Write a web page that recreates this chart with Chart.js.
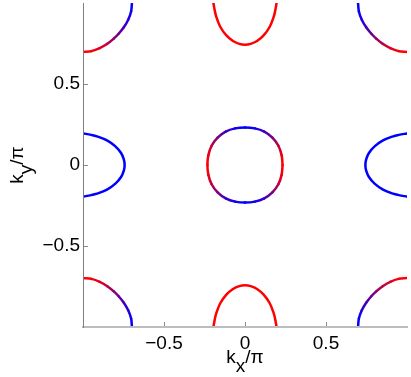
<!DOCTYPE html>
<html>
<head>
<meta charset="utf-8">
<script src="https://cdn.jsdelivr.net/npm/chart.js@4/dist/chart.umd.min.js"></script>
<style>
html,body{margin:0;padding:0;background:#fff;}
#c{display:block;}
</style>
</head>
<body>
<canvas id="c" width="411" height="377"></canvas>
<script>
// ---- tick values / labels ----
const tickValues = [-0.5, 0, 0.5];
const tickLabels = ['\u22120.5', '0', '0.5'];

// ---- Fermi surface pockets (kx/pi, ky/pi) and red weight (1 = red, 0 = blue) ----
// central pocket around (0,0)
const gammaKx = [0.232,0.226,0.206,0.169,0.119,0.061,0.000,-0.061,-0.119,-0.169,-0.206,-0.226,-0.232,-0.226,-0.206,-0.169,-0.119,-0.061,0.000,0.061,0.119,0.169,0.206,0.226,0.232];
const gammaKy = [0.000,0.061,0.119,0.169,0.206,0.226,0.232,0.226,0.206,0.169,0.119,0.061,0.000,-0.061,-0.119,-0.169,-0.206,-0.226,-0.232,-0.226,-0.206,-0.169,-0.119,-0.061,0.000];
const gammaRed = [1,0.93,0.75,0.50,0.25,0.07,0,0.07,0.25,0.50,0.75,0.93,1,0.93,0.75,0.50,0.25,0.07,0,0.07,0.25,0.50,0.75,0.93,1];

// pocket around (0,1)
const topKx = [-0.195,-0.186,-0.177,-0.152,-0.115,-0.074,-0.035,0.000,0.035,0.074,0.115,0.152,0.177,0.186,0.195];
const topKy = [1.000,0.950,0.914,0.852,0.800,0.765,0.748,0.743,0.748,0.765,0.800,0.852,0.914,0.950,1.000];
const topRed = [1,1,1,1,1,1,1,1,1,1,1,1,1,1,1];

// pocket around (0,-1)
const bottomKx = [-0.195,-0.186,-0.177,-0.152,-0.115,-0.074,-0.035,0.000,0.035,0.074,0.115,0.152,0.177,0.186,0.195];
const bottomKy = [-1.000,-0.950,-0.914,-0.852,-0.800,-0.765,-0.748,-0.743,-0.748,-0.765,-0.800,-0.852,-0.914,-0.950,-1.000];
const bottomRed = [1,1,1,1,1,1,1,1,1,1,1,1,1,1,1];

// pocket around (-1,0)
const leftKx = [-1.000,-0.950,-0.914,-0.852,-0.800,-0.765,-0.748,-0.743,-0.748,-0.765,-0.800,-0.852,-0.914,-0.950,-1.000];
const leftKy = [0.195,0.186,0.177,0.152,0.115,0.074,0.035,0.000,-0.035,-0.074,-0.115,-0.152,-0.177,-0.186,-0.195];
const leftRed = [0,0,0,0,0,0,0,0,0,0,0,0,0,0,0];

// pocket around (1,0)
const rightKx = [1.000,0.950,0.914,0.852,0.800,0.765,0.748,0.743,0.748,0.765,0.800,0.852,0.914,0.950,1.000];
const rightKy = [0.195,0.186,0.177,0.152,0.115,0.074,0.035,0.000,-0.035,-0.074,-0.115,-0.152,-0.177,-0.186,-0.195];
const rightRed = [0,0,0,0,0,0,0,0,0,0,0,0,0,0,0];

// corner pockets
const tlKx = [-1.000,-0.948,-0.897,-0.850,-0.810,-0.780,-0.748,-0.721,-0.703,-0.698];
const tlKy = [0.698,0.703,0.721,0.748,0.780,0.810,0.850,0.897,0.948,1.000];
const tlRed = [1,0.97,0.88,0.74,0.57,0.43,0.26,0.12,0.03,0];

const trKx = [1.000,0.948,0.897,0.850,0.810,0.780,0.748,0.721,0.703,0.698];
const trKy = [0.698,0.703,0.721,0.748,0.780,0.810,0.850,0.897,0.948,1.000];
const trRed = [1,0.97,0.88,0.74,0.57,0.43,0.26,0.12,0.03,0];

const blKx = [-1.000,-0.948,-0.897,-0.850,-0.810,-0.780,-0.748,-0.721,-0.703,-0.698];
const blKy = [-0.698,-0.703,-0.721,-0.748,-0.780,-0.810,-0.850,-0.897,-0.948,-1.000];
const blRed = [1,0.97,0.88,0.74,0.57,0.43,0.26,0.12,0.03,0];

const brKx = [1.000,0.948,0.897,0.850,0.810,0.780,0.748,0.721,0.703,0.698];
const brKy = [-0.698,-0.703,-0.721,-0.748,-0.780,-0.810,-0.850,-0.897,-0.948,-1.000];
const brRed = [1,0.97,0.88,0.74,0.57,0.43,0.26,0.12,0.03,0];

const pockets = [
  [gammaKx, gammaKy, gammaRed],
  [topKx, topKy, topRed],
  [bottomKx, bottomKy, bottomRed],
  [leftKx, leftKy, leftRed],
  [rightKx, rightKy, rightRed],
  [tlKx, tlKy, tlRed],
  [trKx, trKy, trRed],
  [blKx, blKy, blRed],
  [brKx, brKy, brRed]
];

// ---- styling ----
const FONT = "'Liberation Sans', Arial, Helvetica, sans-serif";
function mix(w) {
  return 'rgb(' + Math.round(255 * w) + ',0,' + Math.round(255 * (1 - w)) + ')';
}
function segColor(weights) {
  return function (ctx) {
    const w0 = weights[ctx.p0DataIndex], w1 = weights[ctx.p1DataIndex];
    if (w0 === w1) return mix(w0);
    const g = ctx.chart.ctx.createLinearGradient(ctx.p0.x, ctx.p0.y, ctx.p1.x, ctx.p1.y);
    g.addColorStop(0, mix(w0));
    g.addColorStop(1, mix(w1));
    return g;
  };
}

const datasets = pockets.map(function (p) {
  const kx = p[0], ky = p[1], red = p[2];
  return {
    data: kx.map(function (x, i) { return { x: x, y: ky[i] }; }),
    showLine: true,
    pointRadius: 0,
    borderWidth: 2.5,
    tension: 0.34,
    borderCapStyle: 'round',
    borderJoinStyle: 'round',
    borderColor: mix(red[0]),
    segment: { borderColor: segColor(red) },
    clip: { left: -1, top: 0, right: 0, bottom: -1 }
  };
});

function fmt(v) {
  const i = tickValues.indexOf(v);
  return i >= 0 ? tickLabels[i] : '';
}

const decor = {
  id: 'decor',
  afterDraw(chart) {
    const c = chart.ctx, a = chart.chartArea;
    const xs = chart.scales.x, ys = chart.scales.y;
    c.save();
    // inward tick marks
    c.strokeStyle = '#8c8c8c';
    c.lineWidth = 1;
    c.beginPath();
    tickValues.forEach(function (v) {
      const px = Math.round(xs.getPixelForValue(v)) + 0.5;
      c.moveTo(px, a.bottom - 1);
      c.lineTo(px, a.bottom - 5);
      const py = Math.round(ys.getPixelForValue(v)) + 0.5;
      c.moveTo(a.left + 1, py);
      c.lineTo(a.left + 5, py);
    });
    c.stroke();

    // axis titles  k_x/pi , k_y/pi
    c.fillStyle = '#000';
    c.font = '19px ' + FONT;
    c.textBaseline = 'alphabetic';
    c.textAlign = 'left';
    const drawTitle = function (sub) {
      const wk = c.measureText('k').width;
      const ws = c.measureText(sub).width;
      const wp = c.measureText('/\u03c0').width;
      const tot = wk + ws + wp;
      let x0 = -tot / 2;
      c.fillText('k', x0, 0);
      c.fillText(sub, x0 + wk, 9);
      c.fillText('/\u03c0', x0 + wk + ws, 0);
    };
    c.save();
    c.translate((a.left + a.right) / 2, 363);
    drawTitle('x');
    c.restore();
    c.save();
    c.translate(23, (a.top + a.bottom) / 2);
    c.rotate(-Math.PI / 2);
    drawTitle('y');
    c.restore();
    c.restore();
  }
};

new Chart(document.getElementById('c'), {
  type: 'scatter',
  data: { datasets: datasets },
  options: {
    responsive: false,
    animation: false,
    events: [],
    layout: { padding: { top: 3, right: 4, left: 0, bottom: 0 } },
    plugins: { legend: { display: false }, tooltip: { enabled: false } },
    scales: {
      x: {
        type: 'linear', min: -1, max: 1,
        afterFit(s) { s.height = 50; s.paddingLeft = 0; s.paddingRight = 0; },
        afterBuildTicks(s) { s.ticks = tickValues.map(function (v) { return { value: v }; }); },
        ticks: { color: '#000', font: { family: FONT, size: 19 }, padding: 5, maxRotation: 0, autoSkip: false, callback: fmt },
        grid: { display: false, drawTicks: false },
        border: { display: true, color: '#bdbdbd', width: 2 }
      },
      y: {
        type: 'linear', min: -1, max: 1,
        afterFit(s) { s.width = 83; s.paddingTop = 0; s.paddingBottom = 0; },
        afterBuildTicks(s) { s.ticks = tickValues.map(function (v) { return { value: v }; }); },
        ticks: { color: '#000', font: { family: FONT, size: 19 }, padding: 3, autoSkip: false, callback: fmt },
        grid: { display: false, drawTicks: false },
        border: { display: true, color: '#7f7f7f', width: 1 }
      }
    }
  },
  plugins: [decor]
});
</script>
</body>
</html>
